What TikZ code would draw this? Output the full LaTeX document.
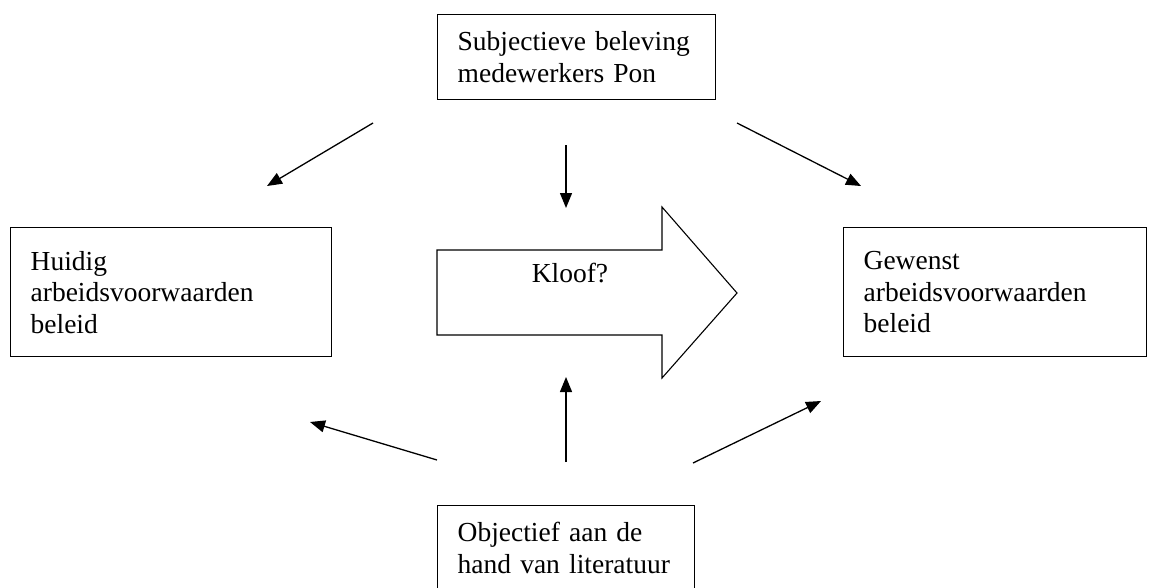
\documentclass[tikz,border=0pt]{standalone}
\usepackage{fontspec}
\setmainfont{Liberation Serif}
\usetikzlibrary{arrows.meta}

\tikzset{
  blok/.style={draw, line width=1.3pt, anchor=north west, align=left,
    inner xsep=20pt, inner ysep=0pt, font=\fontsize{27.5}{31.5}\selectfont},
  pijl/.style={line width=1.3pt, -{Triangle[length=15pt,width=12pt]}}
}

\begin{document}
\begin{tikzpicture}[x=1pt, y=-1pt]
  \useasboundingbox (0,0) rectangle (1156,587);

  % blokken
  \node[blok, text width=238pt, minimum width=278pt, minimum height=85pt] (subj) at (437,14)
    {Subjectieve beleving\\medewerkers Pon};
  \node[blok, text width=281pt, minimum width=321pt, minimum height=129pt] (huidig) at (10,227)
    {Huidig\\arbeidsvoorwaarden\\beleid};
  \node[blok, text width=263pt, minimum width=303pt, minimum height=129pt] (gewenst) at (843,227)
    {Gewenst\\arbeidsvoorwaarden\\beleid};
  \node[blok, text width=217pt, minimum width=257pt, minimum height=85pt] (obj) at (437,505)
    {Objectief aan de\\hand van literatuur};

  % grote pijl
  \draw[line width=1.1pt] (437,250) -- (662,250) -- (662,207) -- (737,293)
    -- (662,378) -- (662,335) -- (437,335) -- cycle;
  \node[font=\fontsize{27.5}{31.5}\selectfont, anchor=base] (kloof) at (570,282) {Kloof?};

  % pijlen
  \coordinate (a1) at (373,123); \coordinate (b1) at (267,186);
  \coordinate (a2) at (566,145); \coordinate (b2) at (566,208);
  \coordinate (a3) at (737,123); \coordinate (b3) at (861,186);
  \coordinate (a4) at (437,460); \coordinate (b4) at (310,422);
  \coordinate (a5) at (566,462); \coordinate (b5) at (566,377);
  \coordinate (a6) at (693,463); \coordinate (b6) at (821,401);
  \foreach \i in {1,...,6}
    \draw[pijl] (a\i) -- (b\i);
\end{tikzpicture}
\end{document}
